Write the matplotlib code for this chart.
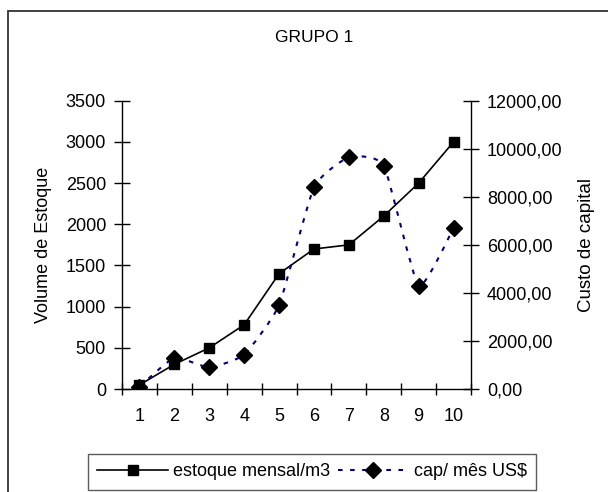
import matplotlib.pyplot as plt
import numpy as np
from matplotlib.path import Path
from matplotlib.patches import PathPatch, Rectangle
from matplotlib.lines import Line2D
from matplotlib.ticker import FuncFormatter

plt.rcParams["font.family"] = ["Liberation Sans", "DejaVu Sans"]
plt.rcParams["font.size"] = 13

# monthly stock and capital cost, group 1
meses = [1, 2, 3, 4, 5, 6, 7, 8, 9, 10]
estoque = [50, 300, 500, 780, 1400, 1700, 1750, 2100, 2500, 3000]
custo = [100, 1300, 900, 1430, 3500, 8400, 9650, 9300, 4300, 6700]

fig = plt.figure(figsize=(6.08, 4.92), dpi=100)
ax = fig.add_axes([0.2007, 0.2093, 0.574, 0.586])
ax2 = ax.twinx()

# outer chart frame (runs off the right and bottom edges)
fig.patches.append(Rectangle((8 / 608, -0.1), 1.0, 1 - 11 / 492 + 0.1,
                             transform=fig.transFigure, fill=False,
                             edgecolor="#333333", lw=1.3, clip_on=False))

x = np.arange(1, len(meses) + 1)

# primary series: straight black line with squares
ax.plot(x, estoque, color="black", lw=1.2, marker="s", markersize=7.5,
        markerfacecolor="black", markeredgecolor="black", zorder=3)


def smooth_path(xs, ys, k=0.08):
    # cubic bezier through every point, gentle tangents
    pts = np.column_stack([xs, ys]).astype(float)
    n = len(pts)
    verts = [pts[0]]
    codes = [Path.MOVETO]
    for i in range(n - 1):
        p0 = pts[max(i - 1, 0)]
        p1 = pts[i]
        p2 = pts[i + 1]
        p3 = pts[min(i + 2, n - 1)]
        c1 = p1 + (p2 - p0) * k
        c2 = p2 - (p3 - p1) * k
        verts += [c1, c2, p2]
        codes += [Path.CURVE4] * 3
    return Path(verts, codes)


azul = "#000080"
dash = (0, (2.2, 3.6))
ax2.add_patch(PathPatch(smooth_path(x, custo), fill=False, edgecolor=azul,
                        lw=1.5, linestyle=dash, zorder=2))
ax2.plot(x, custo, linestyle="none", marker="D", markersize=8.2,
         color="black", zorder=3)

# axes limits and ticks
ax.set_xlim(0.5, len(meses) + 0.5)
ax.set_ylim(0, 3500)
ax2.set_ylim(0, 12000)
ax.set_yticks(np.arange(0, 3501, 500))
ax2.set_yticks(np.arange(0, 12001, 2000))
ax2.yaxis.set_major_formatter(FuncFormatter(lambda v, p: f"{v:.2f}".replace(".", ",")))

ax.set_xticks(np.arange(0.5, len(meses) + 1, 1))
ax.set_xticklabels([])
ax.set_xticks(x, minor=True)
ax.set_xticklabels([str(m) for m in meses], minor=True)
ax.tick_params(axis="x", which="major", direction="inout", length=9, width=1)
ax.tick_params(axis="x", which="minor", length=0, pad=14)
ax.tick_params(axis="y", direction="inout", length=11, width=1, pad=6)
ax2.tick_params(axis="y", direction="inout", length=11, width=1, pad=6)

for a in (ax, ax2):
    a.spines["top"].set_visible(False)
    for s in ("left", "right", "bottom"):
        a.spines[s].set_linewidth(1.0)
ax.spines["right"].set_visible(False)
ax2.spines["left"].set_visible(False)
ax2.spines["bottom"].set_visible(False)

ax.set_ylabel("Volume de Estoque", labelpad=10)
ax2.set_ylabel("Custo de capital", labelpad=11, fontsize=13.5)

fig.text(314 / 608, 1 - 37 / 492, "GRUPO 1", ha="center", va="center",
         fontsize=12.5)

handles = [
    Line2D([], [], color="black", lw=1.2, marker="s", markersize=7.5),
    Line2D([], [], color=azul, lw=1.5, linestyle=dash, marker="D",
           markersize=8.2, markerfacecolor="black", markeredgecolor="black"),
]
leg = fig.legend(handles, ["estoque mensal/m3", "cap/ mês US$"],
                 loc="center", bbox_to_anchor=(312 / 608, 1 - 472 / 492),
                 ncol=2, frameon=True, fancybox=False, edgecolor="#333333",
                 handlelength=3.9, handletextpad=0.3, columnspacing=0.4,
                 borderpad=0.55, borderaxespad=0)
leg.get_frame().set_linewidth(1.0)

fig.savefig("out.png", dpi=100)
